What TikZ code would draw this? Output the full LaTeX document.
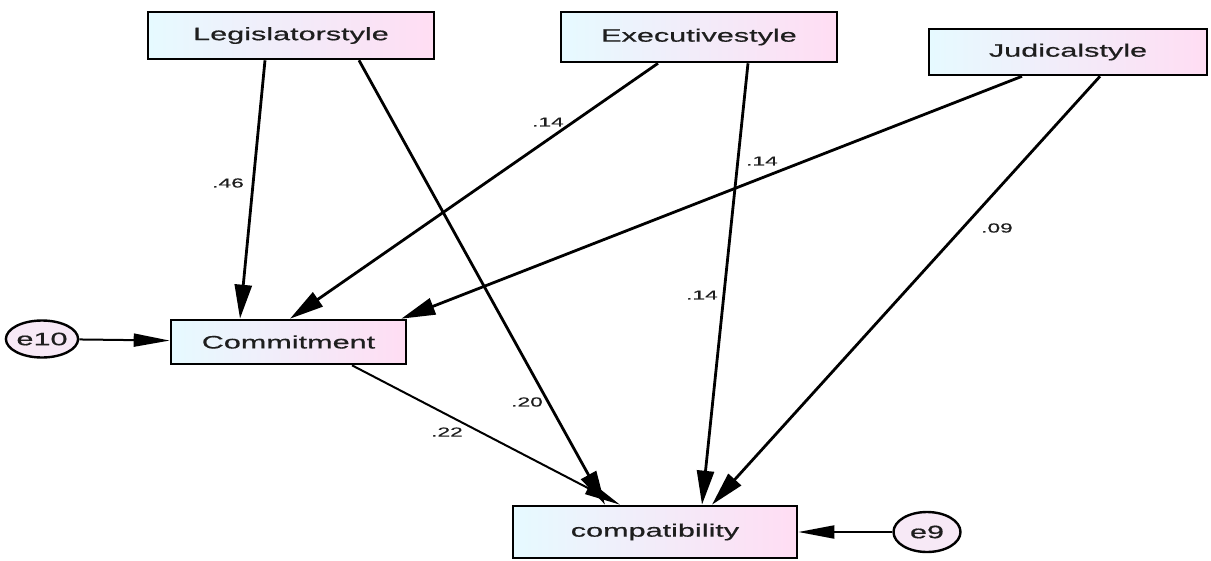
\documentclass[tikz,border=0pt]{standalone}
\usepackage{fontspec}
\setmainfont{Liberation Sans}
\newfontfamily\widefont[FakeStretch=1.7,FakeBold=0.6]{Liberation Sans}
\newfontfamily\widelab[FakeStretch=1.75,FakeBold=0.5]{Liberation Sans}
\usetikzlibrary{arrows.meta,calc,shapes.geometric}
\definecolor{boxleft}{HTML}{E6FAFF}
\definecolor{boxright}{HTML}{FFDDF3}
\definecolor{ellfill}{HTML}{F7E9F6}
\definecolor{txt}{HTML}{1E1E1E}
\tikzset{
  varbox/.style={rectangle, draw=black, line width=2.6pt, left color=boxleft, right color=boxright,
    text=txt, font=\widefont\fontsize{18pt}{21pt}\selectfont, inner sep=0pt},
  errell/.style={ellipse, draw=black, line width=2.4pt, fill=ellfill, text=txt,
    font=\widefont\fontsize{18pt}{21pt}\selectfont, inner sep=0pt},
  path/.style={draw=black, line width=2.8pt, -{Triangle[length=34pt,width=17pt]}},
  thinpath/.style={draw=black, line width=2pt, -{Triangle[length=36pt,width=13pt]}},
  coef/.style={text=txt, font=\widelab\fontsize{13pt}{15pt}\selectfont, inner sep=0pt}
}
\begin{document}
\begin{tikzpicture}[x=1pt,y=-1pt]
\useasboundingbox (0,0) rectangle (1211,560);
\fill[white] (0,0) rectangle (1211,560);
\node[varbox, minimum width=286pt, minimum height=47pt] (leg) at (291,35.5) {Legislatorstyle};
\node[varbox, minimum width=276pt, minimum height=50pt] (exe) at (699,37) {Executivestyle};
\node[varbox, minimum width=278pt, minimum height=46pt] (jud) at (1068,52) {Judicalstyle};
\node[varbox, minimum width=235pt, minimum height=44pt] (com) at (288.5,342) {Commitment};
\node[varbox, minimum width=284pt, minimum height=52pt] (cmp) at (655,532) {compatibility};
\node[errell, minimum width=69pt, minimum height=37pt] (e10) at (42,339) {e10};
\node[errell, minimum width=67pt, minimum height=40pt] (e9) at (927,532) {e9};

\draw[path] ([xshift=-26pt]leg.south) -- ([xshift=-48.5pt]com.north);
\draw[path] ([xshift=68pt]leg.south) -- ([xshift=-50pt]cmp.north);
\draw[path] ([xshift=-41pt]exe.south) -- ([xshift=1.5pt]com.north);
\draw[path] ([xshift=49pt]exe.south) -- ([xshift=47pt]cmp.north);
\draw[path] ([xshift=-46pt]jud.south) -- ([xshift=-6pt]com.north east);
\draw[path] ([xshift=32pt]jud.south) -- ([xshift=57pt]cmp.north);
\draw[thinpath] ([xshift=63.5pt]com.south) -- ([xshift=-35pt]cmp.north);
\draw[thinpath] (e10) -- (com);
\draw[thinpath] (e9) -- (cmp);

\node[coef] (l46) at (228,183) {.46};
\node[coef] (l20) at (527,402) {.20};
\node[coef] (l22) at (447,432) {.22};
\node[coef] (l14a) at (548,122) {.14};
\node[coef] (l14b) at (762,161) {.14};
\node[coef] (l14c) at (702,295) {.14};
\node[coef] (l09) at (997,228) {.09};
\end{tikzpicture}
\end{document}
